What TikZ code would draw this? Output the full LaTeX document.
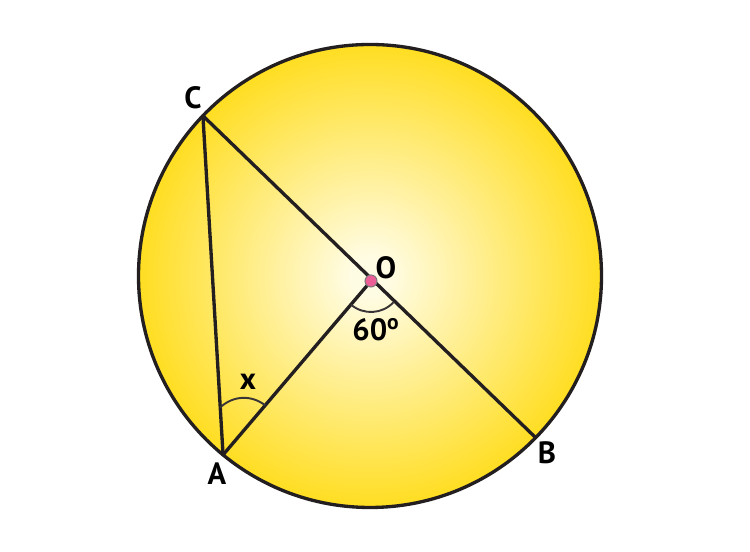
\documentclass[tikz,border=0pt]{standalone}
\usepackage{fontspec}
\setmainfont{PT Sans}
\usepackage{tikz}
\usetikzlibrary{calc}
\definecolor{yolk}{RGB}{255,220,25}
\definecolor{glow}{RGB}{255,252,228}
\definecolor{pin}{RGB}{236,95,150}
\definecolor{ink}{RGB}{35,31,32}
\pgfdeclareradialshading{sunfill}{\pgfpoint{0bp}{0bp}}{color(0bp)=(glow); color(2bp)=(glow); color(26bp)=(yolk); color(72bp)=(yolk)}
\tikzset{
  chord/.style={draw=ink, line width=1.9pt, line cap=round},
  angarc/.style={draw=ink!90, line width=1.1pt},
  lbl/.style={font=\fontsize{17.5}{20}\selectfont\bfseries}
}

\begin{document}
\begin{tikzpicture}
\useasboundingbox (0,0) rectangle (15,11.04);
\coordinate (K) at (7.40,5.52);
\coordinate (O) at (7.42,5.42);
\coordinate (C) at ($(K)+(136.2:4.63)$);
\coordinate (B) at ($(K)+(-44.3:4.63)$);
\coordinate (A) at ($(K)+(230.6:4.63)$);
% disc
\shade[shading=sunfill] (K) circle (4.63);
\draw[ink, line width=1.9pt] (K) circle (4.63);
% chords and radius
\draw[chord] (C) -- (B);
\draw[chord] (C) -- (A);
\draw[chord] (A) -- (O);
% angles
\draw[angarc] ($(O)+(229.6:0.62)$) arc (229.6:316.4:0.62);
\draw[angarc] ($(A)!0.14!(C)$) to[bend left=40] ($(A)!0.285!(O)$);
\filldraw[fill=pin, draw=ink!60, line width=0.6pt] (O) circle (0.12);
% labels
\path (3.86,9.08) node[lbl] (lC) {C};
\path (7.72,5.68) node[lbl] (lO) {O};
\path (4.34,1.56) node[lbl] (lA) {A};
\path (10.94,1.98) node[lbl] (lB) {B};
\path (4.96,3.40) node[lbl] (lx) {x};
\path (7.52,4.44) node[lbl] (l60) {60\textsuperscript{o}};
\end{tikzpicture}
\end{document}
